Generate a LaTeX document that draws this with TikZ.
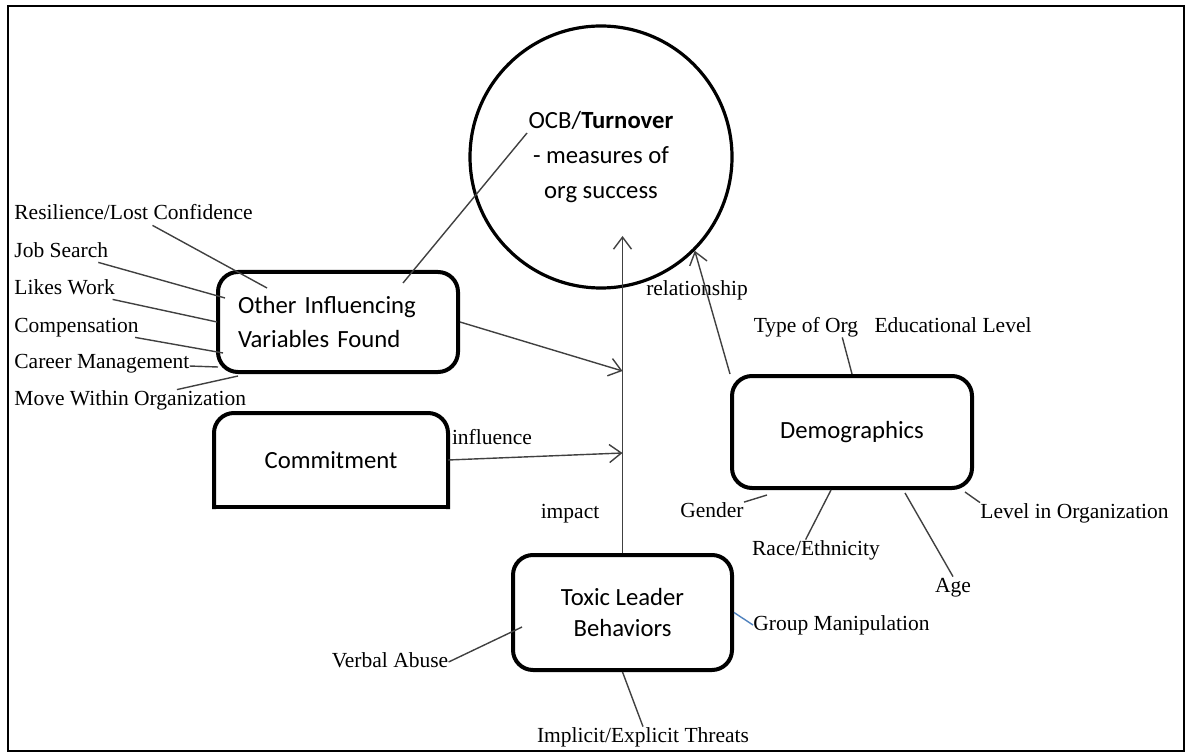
\documentclass[tikz,border=0pt]{standalone}
\usepackage{fontspec}
\setmainfont{Liberation Serif}
\newfontfamily\calibri{Carlito}
\usetikzlibrary{arrows.meta}
\definecolor{wordblue}{RGB}{79,129,189}

\begin{document}
\begin{tikzpicture}[x=0.5pt,y=-0.5pt,
    box/.style={draw,line width=2pt,rounded corners=10pt,align=center,inner sep=0pt,
        font=\calibri\fontsize{12.35}{17}\selectfont},
    lbl/.style={inner sep=0pt,text height=7.5pt,text depth=2.5pt,
        font=\fontsize{10.75}{13}\selectfont},
    spoke/.style={black!75,line width=0.7pt},
    arr/.style={black!75,line width=0.7pt,-{Straight Barb[length=6pt,width=9pt]}}]

    \useasboundingbox (0,0) rectangle (1186,753);
    \draw[line width=1.3pt] (8,6) rectangle (1184,751);

    \node[draw,circle,line width=1.6pt,minimum size=131pt,inner sep=0pt,align=center,
        font=\calibri\fontsize{12.35}{17.5}\selectfont] (ocb) at (601,157)
        {OCB/\textbf{Turnover}\\- measures of\\org success};

    \node[box,minimum width=120pt,minimum height=50pt,text width=100pt,align=left,inner xsep=10pt]
        (other) at (338,322) {Other Influencing\\Variables Found};
    \node[box,draw=none,outer sep=0pt,minimum width=117pt,minimum height=47pt]
        (commit) at (331,460) {Commitment};
    \draw[line width=2pt,rounded corners=10pt,line cap=rect]
        (commit.south west) -- (commit.north west) -- (commit.north east) -- (commit.south east);
    \draw[line width=2pt,line cap=rect] (commit.south west) -- (commit.south east);
    \node[box,minimum width=120pt,minimum height=56pt] (demo) at (852,432) {Demographics};
    \node[box,minimum width=109.5pt,minimum height=57.5pt,font=\calibri\fontsize{12.35}{15.5}\selectfont]
        (toxic) at (622.5,612.5) {Toxic Leader\\Behaviors};

    \node[lbl,anchor=west] (res) at (14,215) {Resilience/Lost Confidence};
    \node[lbl,anchor=west] (job) at (14,252) {Job Search};
    \node[lbl,anchor=west] (likes) at (14,289) {Likes Work};
    \node[lbl,anchor=west] (comp) at (14,327) {Compensation};
    \node[lbl,anchor=west] (career) at (14,363) {Career Management};
    \node[lbl,anchor=west] (move) at (14,400) {Move Within Organization};

    \node[lbl] (typeorg) at (806,327) {Type of Org};
    \node[lbl] (edu) at (953,327) {Educational Level};
    \node[lbl] (gender) at (712,512) {Gender};
    \node[lbl] (race) at (816,550) {Race/Ethnicity};
    \node[lbl] (age) at (953,587) {Age};
    \node[lbl,anchor=west] (levelorg) at (980,513) {Level in Organization};
    \node[lbl,anchor=west] (gm) at (753,625) {Group Manipulation};
    \node[lbl] (va) at (390,662) {Verbal Abuse};
    \node[lbl] (threat) at (643,737) {Implicit/Explicit Threats};

    \node[lbl] (infl) at (492,439) {influence};
    \node[lbl] (imp) at (570,513) {impact};
    \node[lbl] (rel) at (697,290) {relationship};

    \coordinate (o1) at (267,288);
    \coordinate (o2) at (225,298);
    \coordinate (o3) at (217,322);
    \coordinate (o4) at (223,353);
    \coordinate (o5) at (218,367);
    \coordinate (o6) at (238,376);
    \coordinate (otop) at (403,283);
    \coordinate (ocbword) at (527,133);
    \coordinate (tip) at (622.5,236);
    \coordinate (j1) at (622.5,371);
    \coordinate (j2) at (622.5,453);
    \coordinate (dgender) at (767,495);
    \coordinate (drace) at (831,490);
    \coordinate (dage) at (905,493);
    \coordinate (dlevel) at (965,492);
    \coordinate (tverbal) at (522,627);

    \draw[spoke] (res) -- (o1);
    \draw[spoke] (job) -- (o2);
    \draw[spoke] (likes) -- (o3);
    \draw[spoke] (comp) -- (o4);
    \draw[spoke] (career) -- (o5);
    \draw[spoke] (move) -- (o6);
    \draw[spoke] (otop) -- (ocbword);

    \draw[spoke] (typeorg.-16) -- (demo.north);
    \draw[spoke] (gender) -- (dgender);
    \draw[spoke] (race.135) -- (drace);
    \draw[spoke] (age.north) -- (dage);
    \draw[spoke] (levelorg.north west) -- (dlevel);
    \draw[wordblue,line width=0.7pt] (gm.west) -- (toxic.east);
    \draw[spoke] (va.east) -- (tverbal);
    \draw[spoke] (threat.north) -- (toxic.south);

    \draw[arr] (toxic.north) -- (tip);
    \draw[arr] (other.east) -- (j1);
    \draw[arr] (commit.east) -- (j2);
    \draw[arr] (demo.north west) -- (ocb.-45);

\end{tikzpicture}
\end{document}
